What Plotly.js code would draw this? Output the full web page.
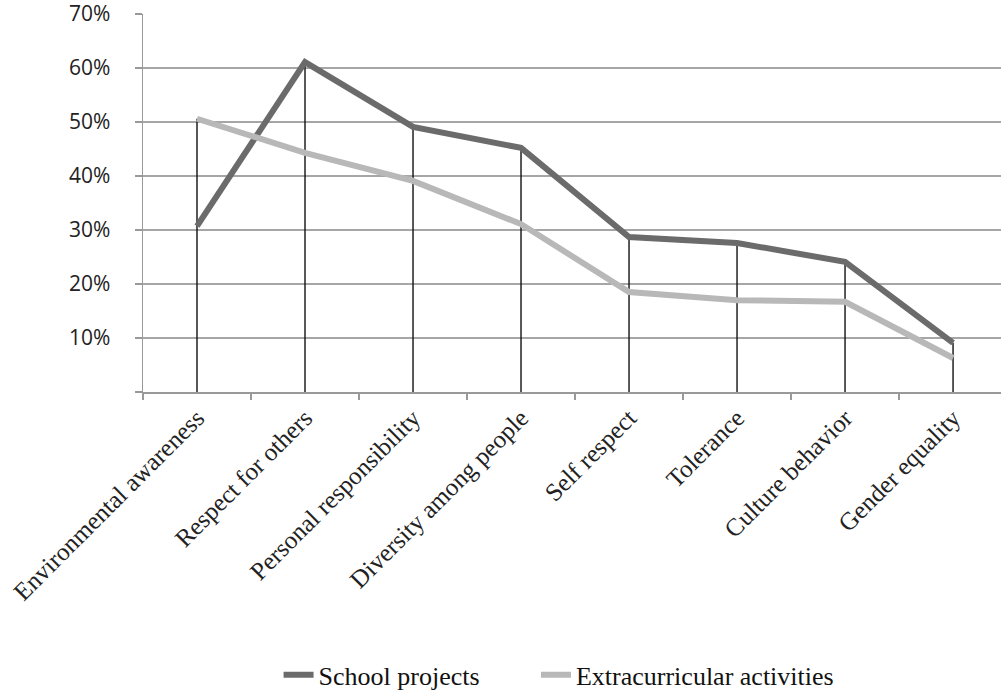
<!DOCTYPE html>
<html>
<head>
<meta charset="utf-8">
<script src="https://cdn.plot.ly/plotly-3.0.1.min.js"></script>
<style>html,body{margin:0;padding:0;background:#fff;}#chart{width:1001px;height:690px;}</style>
</head>
<body>
<div id="chart"></div>
<script>
var categories = ["Environmental awareness","Respect for others","Personal responsibility","Diversity among people","Self respect","Tolerance","Culture behavior","Gender equality"];
var schoolProjects = [0.307, 0.611, 0.491, 0.452, 0.287, 0.276, 0.241, 0.091];
var extracurricular = [0.506, 0.443, 0.391, 0.311, 0.185, 0.170, 0.167, 0.063];
var yTickValues = [0, 0.1, 0.2, 0.3, 0.4, 0.5, 0.6, 0.7];
var yTickLabels = ["", "10%", "20%", "30%", "40%", "50%", "60%", "70%"];

var dropX = [], dropY = [];
categories.forEach(function (c, i) {
  dropX.push(c, c, null);
  dropY.push(0, Math.max(schoolProjects[i], extracurricular[i]), null);
});

var traces = [
  {x: dropX, y: dropY, type: 'scatter', mode: 'lines', showlegend: false, hoverinfo: 'skip',
   line: {color: '#111111', width: 1.4}, connectgaps: false},
  {x: categories, y: schoolProjects, type: 'scatter', mode: 'lines', name: 'School projects',
   line: {color: '#6b6b6b', width: 6}, legend: 'legend'},
  {x: categories, y: extracurricular, type: 'scatter', mode: 'lines', name: 'Extracurricular activities',
   line: {color: '#b8b8b8', width: 6}, legend: 'legend2'}
];

var legendFont = {family: 'Liberation Serif', size: 26, color: '#111111'};
var layout = {
  width: 1001, height: 690,
  margin: {l: 143, r: 0, t: 14, b: 298, autoexpand: false},
  paper_bgcolor: '#ffffff', plot_bgcolor: '#ffffff',
  showlegend: true,
  legend: {orientation: 'h', x: 0.158, xanchor: 'left', y: -0.748, yanchor: 'middle', font: legendFont},
  legend2: {orientation: 'h', x: 0.458, xanchor: 'left', y: -0.748, yanchor: 'middle', font: legendFont},
  xaxis: {
    type: 'category', range: [-0.5, 7.444], tickson: 'boundaries',
    ticks: 'outside', ticklen: 6, tickcolor: '#999999', tickwidth: 1.5,
    showgrid: false, showline: true, linecolor: '#999999', linewidth: 1.5,
    tickangle: -45, zeroline: false, automargin: false,
    tickfont: {family: 'Liberation Serif', size: 25, color: '#222222'},
    ticklabeloverflow: 'allow',
    fixedrange: true
  },
  yaxis: {
    range: [0, 0.7], tickvals: yTickValues, ticktext: yTickLabels,
    ticks: 'outside', ticklen: 7, tickcolor: '#999999', tickwidth: 1.5,
    showgrid: true, gridcolor: '#a6a6a6', gridwidth: 1.5,
    showline: true, linecolor: '#999999', linewidth: 1.5, zeroline: false, automargin: false,
    tickfont: {family: 'Open Sans', size: 21, color: '#222222'},
    ticklabelstandoff: 20, ticklabeloverflow: 'allow',
    fixedrange: true
  }
};

Plotly.newPlot('chart', traces, layout, {displayModeBar: false, staticPlot: true});
</script>
</body>
</html>
